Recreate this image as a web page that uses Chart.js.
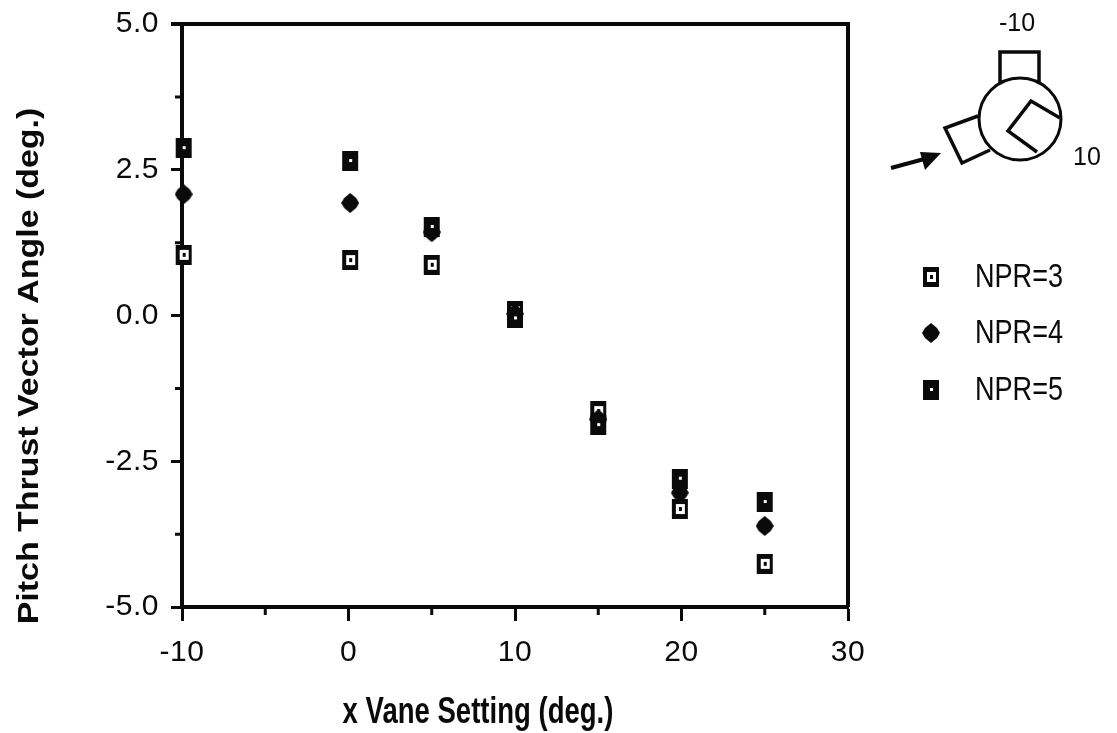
<!DOCTYPE html>
<html>
<head>
<meta charset="utf-8">
<title>Pitch Thrust Vector Angle</title>
<script src="https://cdn.jsdelivr.net/npm/chart.js@4/dist/chart.umd.min.js"></script>
<style>
  html, body { margin: 0; background: #fff; }
  canvas { display: block; }
</style>
</head>
<body>
<canvas id="js--chart" width="1117" height="733"></canvas>
<script>
// values
const vaneSetting = [-9.9, 0.1, 5, 10, 15, 19.9, 25];
const npr3 = [1.04, 0.95, 0.87, 0.07, -1.64, -3.32, -4.26];
const npr4 = [2.08, 1.93, 1.43, 0.03, -1.78, -3.04, -3.61];
const npr5 = [2.87, 2.65, 1.52, -0.05, -1.88, -2.80, -3.20];
const seriesNames = ["NPR=3", "NPR=4", "NPR=5"];
const xMinorTicks = [-5, 5, 15, 25];
const yMinorTicks = [3.75, 1.25, -1.25, -3.75];
const xTitle = "x Vane Setting (deg.)";
const yTitle = "Pitch Thrust Vector Angle (deg.)";

const ink = "#0a0a0a";
const tickFont = "'Liberation Sans'";

function toPoints(values) {
    return values.map(function (v, i) {
        return { x: vaneSetting[i], y: v };
    });
}

function markerCanvas(draw) {
    const c = document.createElement("canvas");
    c.width = 18;
    c.height = 20;
    const g = c.getContext("2d");
    draw(g);
    return c;
}

// scanned markers: square with a ring, diamond, square with a pin hole
const openSquare = markerCanvas(function (g) {
    g.fillStyle = ink;
    g.fillRect(1, 0, 16, 20);
    g.fillStyle = "#fff";
    g.fillRect(5, 5, 9, 10);
    g.fillStyle = ink;
    g.fillRect(8, 8, 3, 4);
});
const diamond = markerCanvas(function (g) {
    g.fillStyle = ink;
    g.beginPath();
    g.moveTo(9, 0);
    g.lineTo(15, 5);
    g.lineTo(18, 10);
    g.lineTo(15, 15);
    g.lineTo(9, 20);
    g.lineTo(3, 15);
    g.lineTo(0, 10);
    g.lineTo(3, 5);
    g.closePath();
    g.fill();
});
const dotSquare = markerCanvas(function (g) {
    g.fillStyle = ink;
    g.fillRect(1, 0, 16, 20);
    g.fillStyle = "#fff";
    g.fillRect(8, 8, 3, 3);
});

const plotExtras = {
    id: "plotExtras",
    beforeDraw: function (chart) {
        chart.ctx.letterSpacing = "0.5px";
    },
    afterDraw: function (chart) {
        const ctx = chart.ctx;
        const area = chart.chartArea;
        const xs = chart.scales.x;
        const ys = chart.scales.y;
        ctx.save();
        ctx.letterSpacing = "0px";
        ctx.strokeStyle = ink;
        ctx.fillStyle = ink;

        // top and right of the frame
        ctx.lineWidth = 4;
        ctx.beginPath();
        ctx.moveTo(area.left - 11, area.top);
        ctx.lineTo(area.right, area.top);
        ctx.lineTo(area.right, area.bottom);
        ctx.stroke();

        // short ticks
        ctx.lineWidth = 3;
        ctx.beginPath();
        xMinorTicks.forEach(function (v) {
            const px = xs.getPixelForValue(v);
            ctx.moveTo(px, area.bottom);
            ctx.lineTo(px, area.bottom + 8);
        });
        yMinorTicks.forEach(function (v) {
            const py = ys.getPixelForValue(v);
            ctx.moveTo(area.left, py);
            ctx.lineTo(area.left - 7, py);
        });
        ctx.stroke();

        // axis titles sit off centre and the scan is stretched, so they are placed by hand
        ctx.textAlign = "center";
        ctx.textBaseline = "alphabetic";
        ctx.font = "bold 36px 'Liberation Sans'";
        ctx.save();
        ctx.translate(478, 723);
        ctx.scale(0.765, 1);
        ctx.fillText(xTitle, 0, 0);
        ctx.restore();
        ctx.font = "bold 29px 'Liberation Sans'";
        ctx.save();
        ctx.translate(38, 366);
        ctx.rotate(-Math.PI / 2);
        ctx.scale(1.17, 1);
        ctx.fillText(yTitle, 0, 0);
        ctx.restore();

        // legend
        const legendY = [277, 333, 390];
        ctx.textBaseline = "middle";
        ctx.textAlign = "left";
        ctx.font = "33px " + tickFont;
        chart.data.datasets.forEach(function (ds, i) {
            const m = ds.pointStyle;
            ctx.drawImage(m, 931 - m.width / 2, legendY[i] - m.height / 2);
            ctx.save();
            ctx.translate(975, legendY[i] + 1);
            ctx.scale(0.82, 1);
            ctx.fillText(ds.label, 0, 0);
            ctx.restore();
        });

        // vane sketch
        ctx.lineWidth = 3.5;
        ctx.lineJoin = "miter";
        ctx.beginPath();
        ctx.moveTo(1000, 84);
        ctx.lineTo(1000, 52);
        ctx.lineTo(1039, 52);
        ctx.lineTo(1039, 84);
        ctx.moveTo(978, 116);
        ctx.lineTo(945, 128);
        ctx.lineTo(962, 163);
        ctx.lineTo(990, 150);
        ctx.moveTo(1037, 152);
        ctx.lineTo(1008, 131);
        ctx.lineTo(1031, 101);
        ctx.lineTo(1060, 118);
        ctx.stroke();
        ctx.lineWidth = 3;
        ctx.beginPath();
        ctx.arc(1020, 119, 41, 0, Math.PI * 2);
        ctx.stroke();
        ctx.lineWidth = 4;
        ctx.beginPath();
        ctx.moveTo(891, 168);
        ctx.lineTo(928, 158);
        ctx.stroke();
        ctx.beginPath();
        ctx.moveTo(920, 152);
        ctx.lineTo(941, 153);
        ctx.lineTo(925, 170);
        ctx.closePath();
        ctx.fill();
        ctx.font = "25px 'Liberation Sans'";
        ctx.textAlign = "center";
        ctx.fillText("-10", 1017, 24);
        ctx.fillText("10", 1087, 158);
        ctx.restore();
    }
};

const scatterData = {
    datasets: [npr3, npr4, npr5].map(function (values, i) {
        return {
            label: seriesNames[i],
            data: toPoints(values),
            pointStyle: [openSquare, diamond, dotSquare][i],
            order: 2 - i,
            clip: false
        };
    })
};

const scatterConfig = {
    type: "scatter",
    data: scatterData,
    plugins: [plotExtras],
    options: {
        responsive: false,
        animation: false,
        layout: { padding: { top: 24, right: 269, left: 0, bottom: 0 } },
        plugins: { legend: { display: false }, tooltip: { enabled: false } },
        scales: {
            x: {
                min: -10,
                max: 30,
                afterFit: function (scale) {
                    scale.height = 126;
                    scale.paddingLeft = 0;
                    scale.paddingRight = 0;
                },
                border: { color: ink, width: 4 },
                grid: { drawOnChartArea: false, color: ink, tickColor: ink, tickLength: 14, tickWidth: 3 },
                ticks: { stepSize: 10, color: ink, padding: 14, maxRotation: 0, font: { family: tickFont, size: 30 } },
                title: { display: false, text: xTitle }
            },
            y: {
                min: -5,
                max: 5,
                afterFit: function (scale) {
                    scale.width = 182;
                    scale.paddingTop = 0;
                    scale.paddingBottom = 0;
                },
                border: { color: ink, width: 4 },
                grid: { drawOnChartArea: false, color: ink, tickColor: ink, tickLength: 11, tickWidth: 3 },
                ticks: {
                    stepSize: 2.5,
                    color: ink,
                    padding: 12,
                    font: { family: tickFont, size: 30 },
                    callback: function (v) { return v.toFixed(1); }
                },
                title: { display: false, text: yTitle }
            }
        }
    }
};

new Chart(document.getElementById("js--chart"), scatterConfig);
</script>
</body>
</html>
